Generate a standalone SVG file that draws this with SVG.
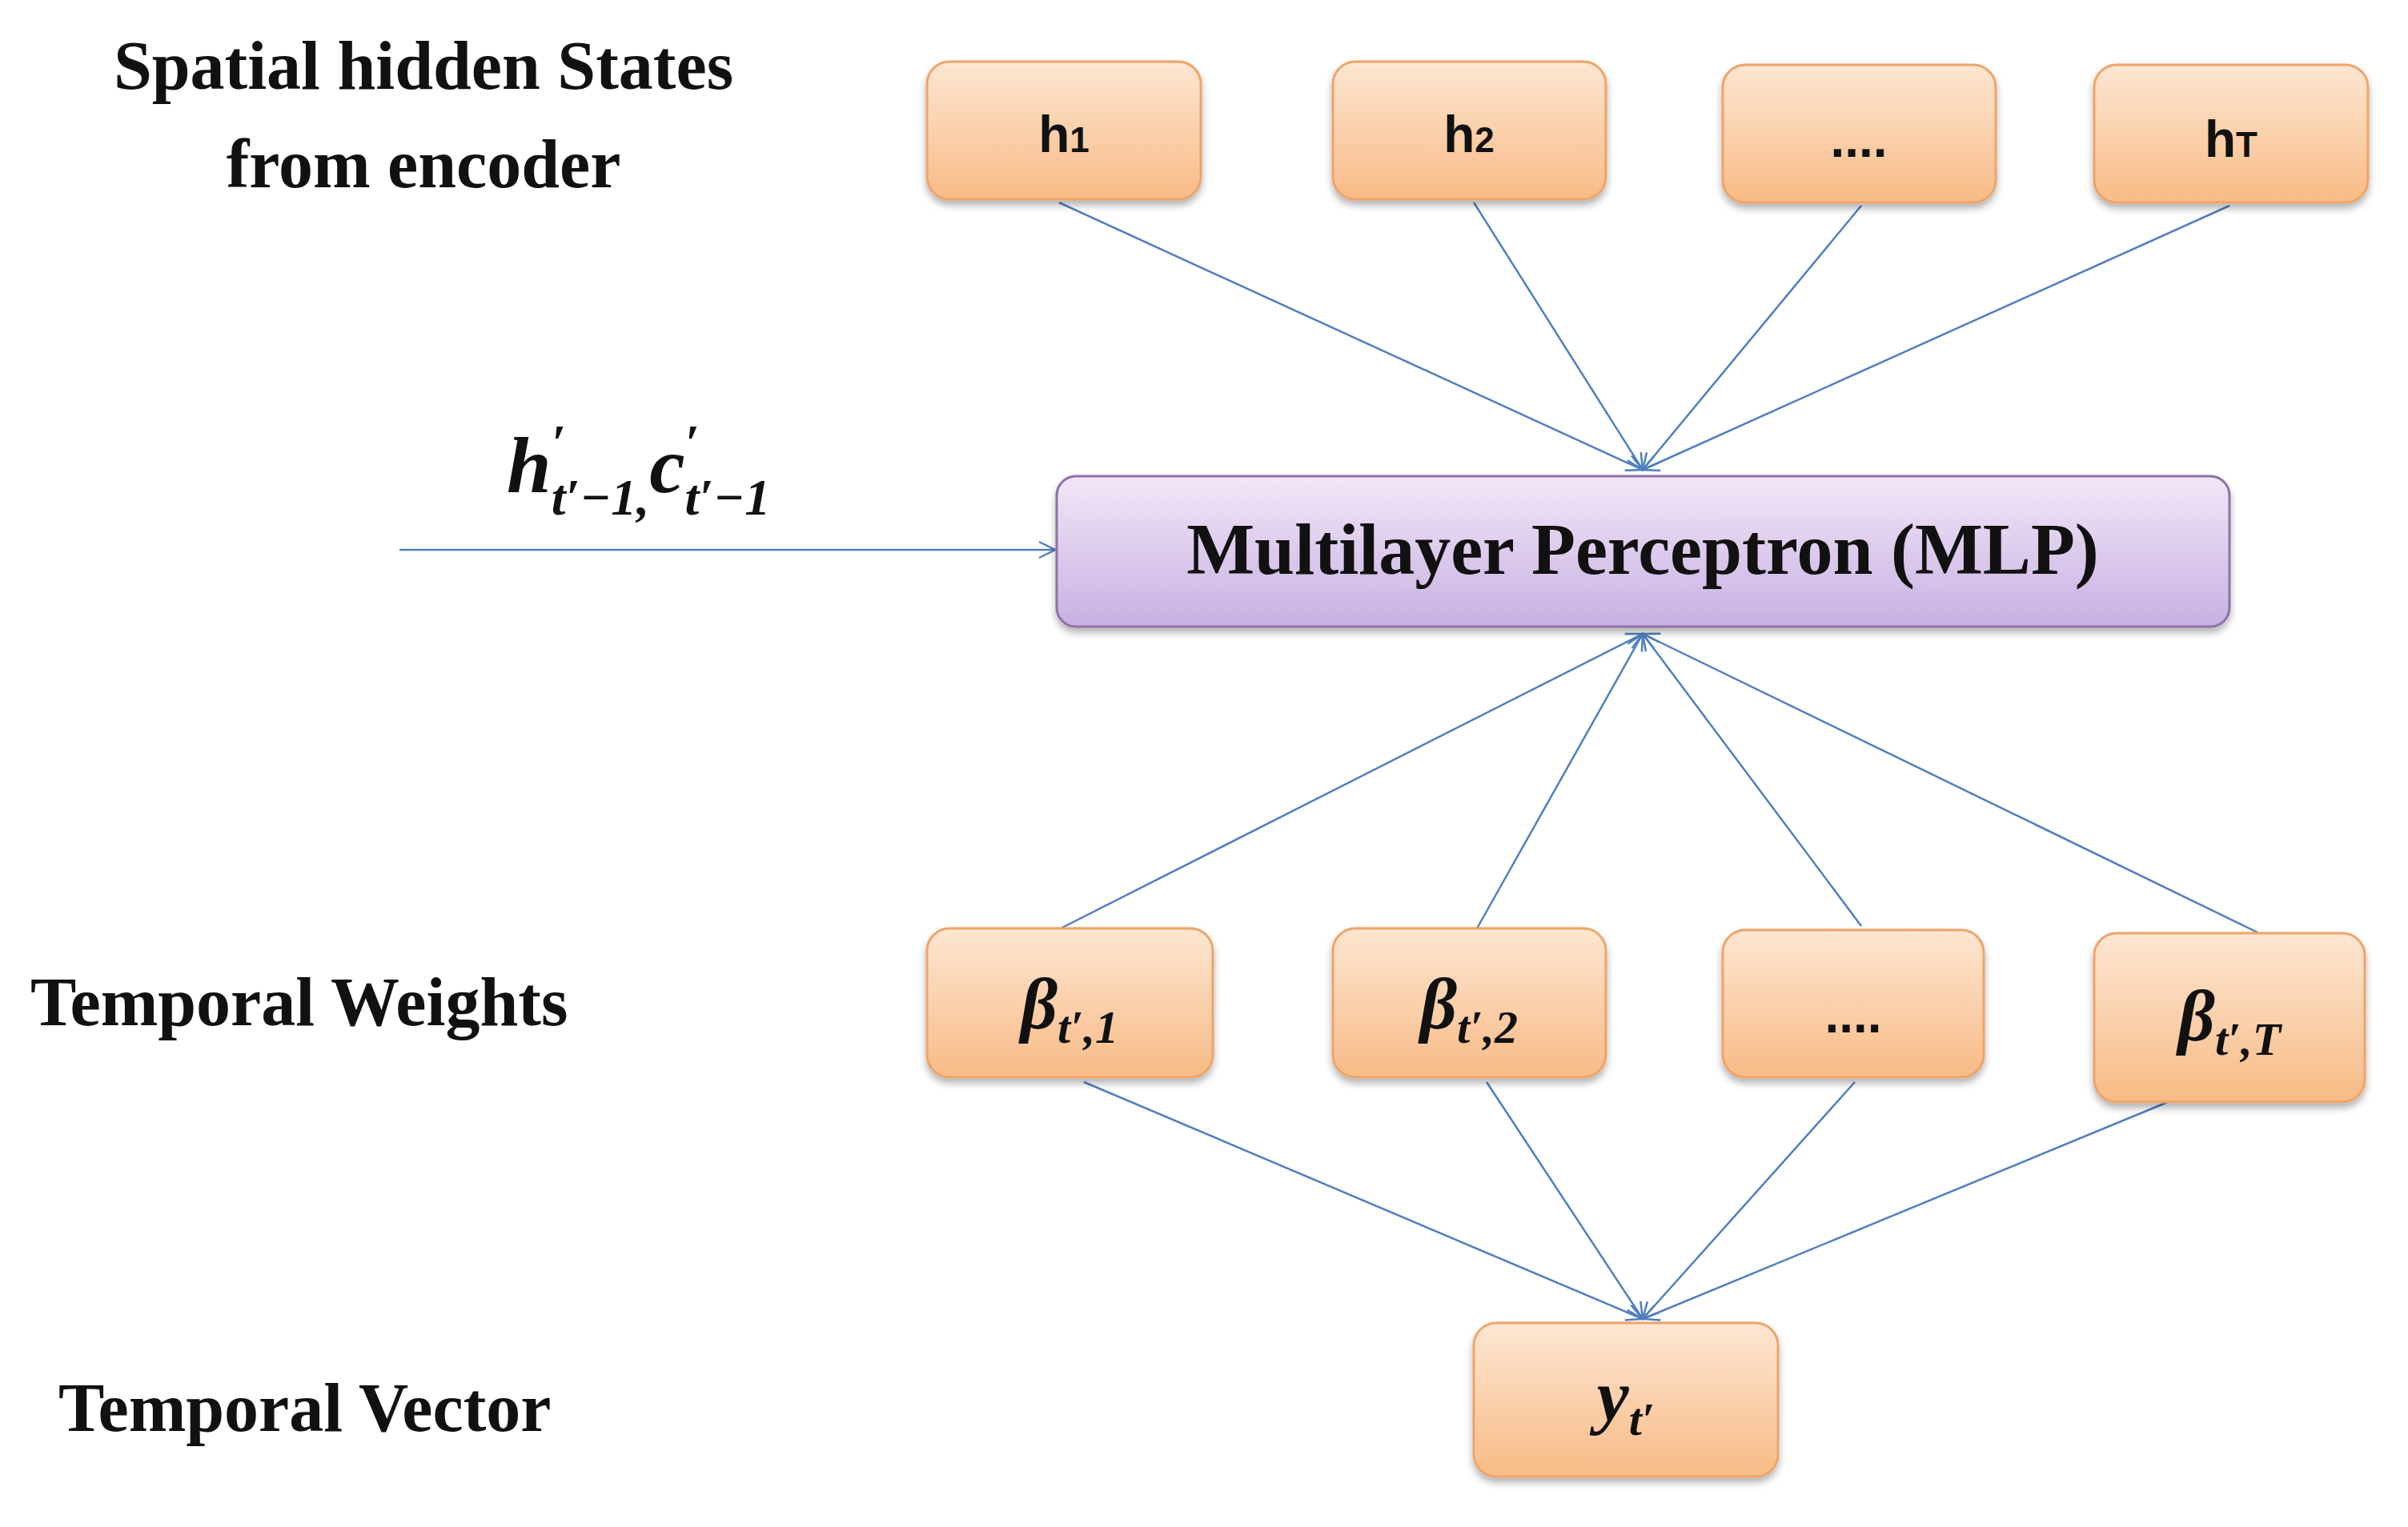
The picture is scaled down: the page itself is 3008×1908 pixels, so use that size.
<svg xmlns="http://www.w3.org/2000/svg" width="3008" height="1908" viewBox="0 0 3008 1908">
<defs>
<linearGradient id="og" x1="0" y1="0" x2="0" y2="1"><stop offset="0" stop-color="#fde6d2"/><stop offset="1" stop-color="#f8bb86"/></linearGradient>
<linearGradient id="pg" x1="0" y1="0" x2="0" y2="1"><stop offset="0" stop-color="#f1e7f7"/><stop offset="1" stop-color="#c8b0e2"/></linearGradient>
<filter id="sh" x="-10%" y="-10%" width="120%" height="130%"><feDropShadow dx="0" dy="6" stdDeviation="5" flood-color="#000" flood-opacity="0.3"/></filter>
<marker id="ar" markerWidth="24" markerHeight="24" refX="22" refY="12" orient="auto" markerUnits="userSpaceOnUse"><path d="M2,2 L22,12 L2,22" fill="none" stroke="#4f7fbf" stroke-width="2.5"/></marker>
<style>
.o{fill:url(#og);stroke:#eea468;stroke-width:3;filter:url(#sh)}
.p{fill:url(#pg);stroke:#8d72a8;stroke-width:3;filter:url(#sh)}
.c{stroke:#4f7fbf;stroke-width:2.5;fill:none;marker-end:url(#ar)}
.lb{font-family:"Liberation Serif",serif;font-weight:bold;font-size:86px;fill:#111}
.h{font-family:"Liberation Sans",sans-serif;font-weight:bold;font-size:64px;fill:#111;text-anchor:middle}
.m{font-family:"Liberation Serif",serif;font-weight:bold;font-style:italic;font-size:90px;fill:#111;text-anchor:middle}
</style>
</defs>
<g id="labels">
<text class="lb" x="529" y="111" text-anchor="middle">Spatial hidden States</text>
<text class="lb" x="529" y="234" text-anchor="middle">from encoder</text>
<text class="lb" x="38" y="1281">Temporal Weights</text>
<text class="lb" x="73" y="1788">Temporal Vector</text>
<text x="633" y="615" font-family="Liberation Serif,serif" font-weight="bold" font-style="italic" font-size="100" fill="#111">h<tspan font-size="64" dy="-40">′</tspan><tspan font-size="64" dx="-18" dy="68">t′−1,</tspan><tspan dy="-28">c</tspan><tspan font-size="64" dy="-40">′</tspan><tspan font-size="64" dx="-18" dy="68">t′−1</tspan></text>
</g>
<g id="connectors">
<line class="c" x1="1323" y1="253" x2="2052" y2="587"/>
<line class="c" x1="1841" y1="253" x2="2052" y2="587"/>
<line class="c" x1="2325" y1="257" x2="2052" y2="587"/>
<line class="c" x1="2785" y1="257" x2="2052" y2="587"/>
<line class="c" x1="499" y1="687" x2="1318" y2="687"/>
<line class="c" x1="1325" y1="1160" x2="2052" y2="792"/>
<line class="c" x1="1845" y1="1160" x2="2052" y2="792"/>
<line class="c" x1="2325" y1="1157" x2="2052" y2="792"/>
<line class="c" x1="2820" y1="1165" x2="2052" y2="792"/>
<line class="c" x1="1354" y1="1352" x2="2052" y2="1648"/>
<line class="c" x1="1857" y1="1352" x2="2052" y2="1648"/>
<line class="c" x1="2317" y1="1352" x2="2052" y2="1648"/>
<line class="c" x1="2708" y1="1377" x2="2052" y2="1648"/>
</g>
<g id="h1"><rect class="o" x="1158" y="77" width="342" height="172" rx="28"/><text class="h" x="1329" y="190">h<tspan font-size="44">1</tspan></text></g>
<g id="h2"><rect class="o" x="1665" y="77" width="341" height="172" rx="28"/><text class="h" x="1835" y="190">h<tspan font-size="44">2</tspan></text></g>
<g id="hdots"><rect class="o" x="2152" y="81" width="341" height="172" rx="28"/><text class="h" x="2322" y="196">....</text></g>
<g id="hT"><rect class="o" x="2616" y="81" width="342" height="172" rx="28"/><text class="h" x="2787" y="196">h<tspan font-size="44">T</tspan></text></g>
<g id="mlp"><rect class="p" x="1320" y="595" width="1465" height="188" rx="24"/><text x="2052" y="717" text-anchor="middle" font-family="Liberation Serif,serif" font-weight="bold" font-size="90" fill="#111">Multilayer Perceptron (MLP)</text></g>
<g id="b1"><rect class="o" x="1158" y="1160" width="357" height="186" rx="28"/><text class="m" x="1336" y="1285">β<tspan font-size="58" dy="18">t′,1</tspan></text></g>
<g id="b2"><rect class="o" x="1665" y="1160" width="341" height="186" rx="28"/><text class="m" x="1835" y="1285">β<tspan font-size="58" dy="18">t′,2</tspan></text></g>
<g id="bdots"><rect class="o" x="2152" y="1162" width="326" height="184" rx="28"/><text class="h" x="2315" y="1290">....</text></g>
<g id="bT"><rect class="o" x="2616" y="1166" width="338" height="211" rx="28"/><text class="m" x="2785" y="1300">β<tspan font-size="58" dy="18">t′,T</tspan></text></g>
<g id="y"><rect class="o" x="1841" y="1653" width="380" height="192" rx="28"/><text class="m" x="2031" y="1775">y<tspan font-size="58" dy="18">t′</tspan></text></g>
</svg>
